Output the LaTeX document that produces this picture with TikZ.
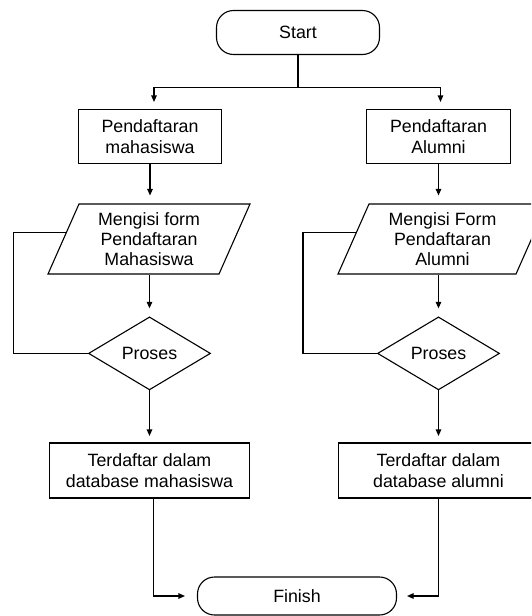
\documentclass[tikz,border=0pt]{standalone}
\usepackage{fontspec}
\setmainfont{Liberation Sans}
\usetikzlibrary{shapes.geometric,arrows.meta,calc}

\begin{document}
\begin{tikzpicture}[x=1pt,y=-1pt,line width=1.1pt,
  every node/.style={font=\fontsize{17.8}{20.3}\selectfont,align=center,inner sep=0pt},
  term/.style={draw,rectangle,rounded corners=17pt},
  proc/.style={draw,rectangle},
  inp/.style={draw,trapezium,trapezium left angle=60,trapezium right angle=120,trapezium stretches body},
  dec/.style={draw,diamond},
  arr/.style={-{Triangle[length=6.5pt,width=5.5pt]}}]

\useasboundingbox (0,0) rectangle (531,616);
\clip (0,0) rectangle (531,616);

\node[term,minimum width=163pt,minimum height=44pt] (start) at (298,32.5) {Start};

\node[proc,minimum width=143pt,minimum height=54pt] (tL) at (150,136.5) {Pendaftaran\\mahasiswa};
\node[proc,minimum width=144pt,minimum height=54pt] (tR) at (438.5,136.5) {Pendaftaran\\Alumni};

\node[inp,minimum width=202pt,minimum height=70pt] (pL) at (149,239) {Mengisi form\\Pendaftaran\\Mahasiswa};
\node[inp,minimum width=209pt,minimum height=70pt] (pR) at (442.5,239) {Mengisi Form\\Pendaftaran\\Alumni};

\node[dec,minimum width=122pt,minimum height=73pt] (dL) at (149.5,353.4) {Proses};
\node[dec,minimum width=122pt,minimum height=73pt] (dR) at (438.5,353.4) {Proses};

\node[proc,minimum width=200pt,minimum height=55pt] (bL) at (149.5,470.5) {Terdaftar dalam\\database mahasiswa};
\node[proc,minimum width=200pt,minimum height=55pt] (bR) at (438.5,470.5) {Terdaftar dalam\\database alumni};

\node[term,minimum width=199pt,minimum height=38pt] (fin) at (297,596) {Finish};

% cabang dari start
\coordinate (split) at (298,87.5);
\draw (start.south) -- (split);
\draw[arr,shorten >=7pt] (split) -| ([xshift=4pt]tL.north);
\draw[arr,shorten >=7pt] (split) -| ([xshift=2pt]tR.north);

% kolom mahasiswa
\draw[arr,shorten >=8pt] (tL.south) -- (tL.south |- pL.north);
\draw[arr,shorten >=8pt] (pL.south -| dL.north) -- (dL.north);
\draw[arr,shorten >=6.5pt] (dL.south) -- (dL.south |- bL.north);
\draw (dL.west) -- ++(-74.5,0) |- ($(pL.top left corner)!0.41!(pL.bottom left corner)$);
\draw[arr,shorten >=12pt] ([xshift=4pt]bL.south) |- (fin.west);

% kolom alumni
\draw[arr,shorten >=8pt] (tR.south) -- (tR.south |- pR.north);
\draw[arr,shorten >=8pt] (pR.south -| dR.north) -- (dR.north);
\draw[arr,shorten >=6.5pt] (dR.south) -- (dR.south |- bR.north);
\draw (dR.west) -- ++(-74,0) |- ($(pR.top left corner)!0.41!(pR.bottom left corner)$);
\draw[arr,shorten >=10pt] (bR.south) |- (fin.east);

\end{tikzpicture}
\end{document}
